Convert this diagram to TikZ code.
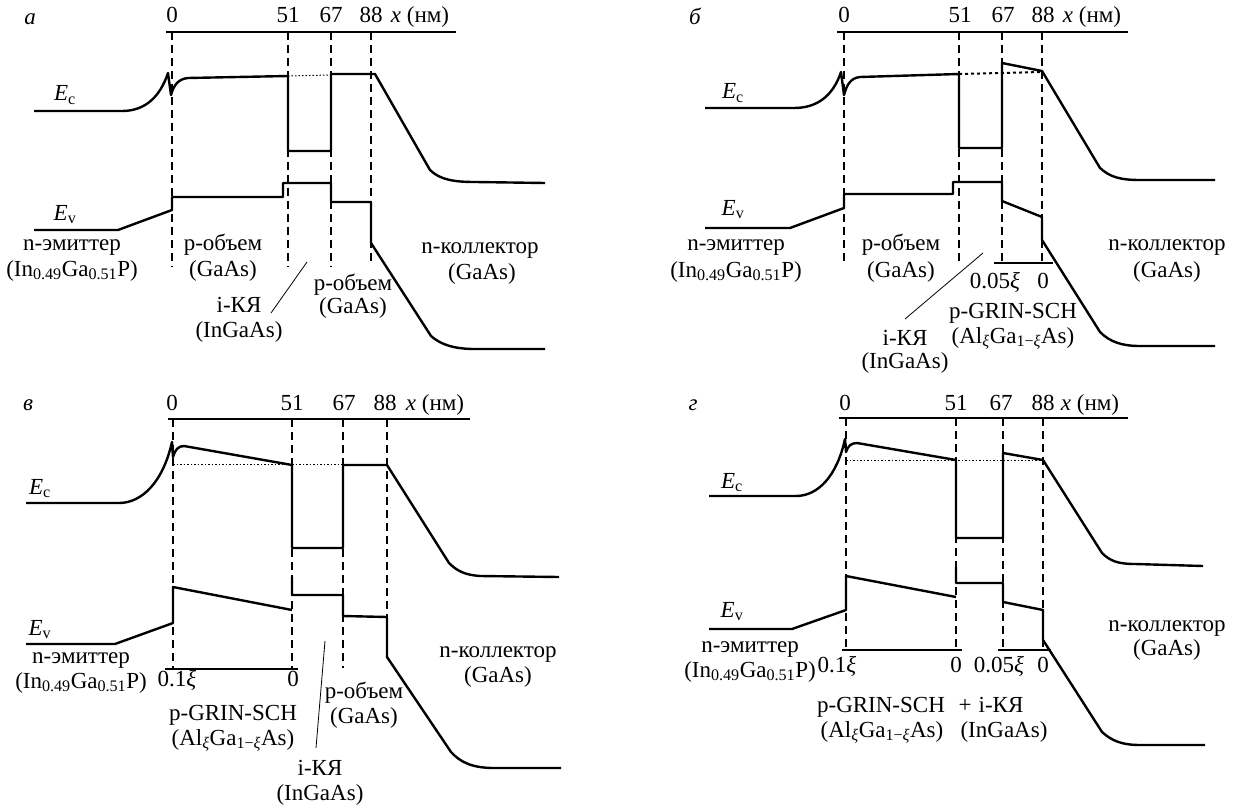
\documentclass[tikz,border=0pt]{standalone}
\usepackage{fontspec}
\setmainfont{Liberation Serif}
\begin{document}
\begin{tikzpicture}[x=1pt,y=-1pt,
 band/.style={line width=2.4pt, line join=round},
 guide/.style={line width=1.1pt, dash pattern=on 8pt off 5pt},
 axisln/.style={line width=1.6pt},
 dotln/.style={line width=1pt, dash pattern=on 1.5pt off 2pt},
 thickdot/.style={line width=2pt, dash pattern=on 3pt off 3pt},
 brk/.style={line width=1.6pt},
 lbl/.style={font=\fontsize{23}{26}\selectfont, inner sep=0pt, text height=15pt, text depth=5pt},
 pin/.style={line width=0.8pt}]
\fill[white] (0,0) rectangle (1239,805);
\useasboundingbox (0,0) rectangle (1239,805);

% ================= panel a =================
\draw[axisln] (166,32) -- (456,32);
\foreach \xx/\yy in {172/267,288/267,331/267,371/262} \draw[guide] (\xx,32) -- (\xx,\yy);
\draw[band] (34,111) -- (122,111) .. controls (145,111) and (160,97) .. (168,73) -- (171,95)
  .. controls (174,84) and (179,79) .. (188,78) -- (288,76) -- (288,151) -- (331,151) -- (331,74)
  -- (375,74) -- (430,170) .. controls (440,180) and (455,182) .. (475,182) -- (545,183);
\draw[dotln] (288,76) -- (331,75);
\draw[band] (34,230) -- (118,230) -- (172,210) -- (172,197) -- (283,197) -- (283,183) -- (331,183)
  -- (331,202) -- (371,202) -- (371,243) -- (431,336) .. controls (441,345) and (455,349) .. (475,349) -- (545,349);
\node[lbl] (a-lab) at (30,20) {\itshape а};
\node[lbl] (a-t0) at (172,18) {0};
\node[lbl] (a-t51) at (288,18) {51};
\node[lbl] (a-t67) at (331,18) {67};
\node[lbl] (a-t88) at (371,18) {88};
\node[lbl] (a-x) at (420,18) {{\itshape x} (нм)};
\node[lbl] (a-ec) at (65,96) {{\itshape E}\textsubscript{c}};
\node[lbl] (a-ev) at (65,215) {{\itshape E}\textsubscript{v}};
\node[lbl] (a-em1) at (72,246) {n-эмиттер};
\node[lbl] (a-em2) at (72,271) {(In\textsubscript{0.49}Ga\textsubscript{0.51}P)};
\node[lbl] (a-pb1) at (223,246) {p-объем};
\node[lbl] (a-pb2) at (223,271) {(GaAs)};
\node[lbl] (a-qw1) at (239,307) {i-КЯ};
\node[lbl] (a-qw2) at (239,332) {(InGaAs)};
\coordinate (a-p1) at (271,313);
\coordinate (a-p2) at (307,262);
\draw[pin] (a-p1) -- (a-p2);
\node[lbl] (a-pc1) at (353,285) {p-объем};
\node[lbl] (a-pc2) at (353,308) {(GaAs)};
\node[lbl] (a-col1) at (480,248) {n-коллектор};
\node[lbl] (a-col2) at (482,274) {(GaAs)};

% ================= panel b =================
\draw[axisln] (837,32) -- (1128,32);
\foreach \xx/\yy in {844/265,959/265,1002/263,1042/263} \draw[guide] (\xx,32) -- (\xx,\yy);
\draw[brk] (994,263) -- (1053,263);
\draw[band] (705,108) -- (794,108) .. controls (817,108) and (833,96) .. (841,72) -- (844,95)
  .. controls (847,84) and (851,78) .. (860,77) -- (959,74) -- (959,148) -- (1002,148) -- (1002,63)
  -- (1042,71) -- (1100,168) .. controls (1110,177) and (1120,180) .. (1140,180) -- (1215,180);
\draw[thickdot] (959,74) -- (1042,72);
\draw[band] (705,228) -- (790,228) -- (844,208) -- (844,194) -- (953,194) -- (953,182) -- (1002,182)
  -- (1002,201) -- (1042,217) -- (1042,240) -- (1100,332) .. controls (1110,342) and (1122,346) .. (1140,346) -- (1215,346);
\node[lbl] (b-lab) at (695,20) {\itshape б};
\node[lbl] (b-t0) at (844,18) {0};
\node[lbl] (b-t51) at (960,18) {51};
\node[lbl] (b-t67) at (1003,18) {67};
\node[lbl] (b-t88) at (1043,18) {88};
\node[lbl] (b-x) at (1092,18) {{\itshape x} (нм)};
\node[lbl] (b-ec) at (733,94) {{\itshape E}\textsubscript{c}};
\node[lbl] (b-ev) at (733,210) {{\itshape E}\textsubscript{v}};
\node[lbl] (b-em1) at (736,245) {n-эмиттер};
\node[lbl] (b-em2) at (736,272) {(In\textsubscript{0.49}Ga\textsubscript{0.51}P)};
\node[lbl] (b-pb1) at (901,245) {p-объем};
\node[lbl] (b-pb2) at (901,272) {(GaAs)};
\node[lbl] (b-g1) at (995,283) {0.05{\itshape ξ}};
\node[lbl] (b-g2) at (1043,283) {0};
\node[lbl] (b-gr1) at (1013,313) {p-GRIN-SCH};
\node[lbl] (b-gr2) at (1013,338) {(Al\textsubscript{{\itshape ξ}}Ga\textsubscript{1−{\itshape ξ}}As)};
\node[lbl] (b-qw1) at (905,340) {i-КЯ};
\node[lbl] (b-qw2) at (905,363) {(InGaAs)};
\coordinate (b-p1) at (905,319);
\coordinate (b-p2) at (983,253);
\draw[pin] (b-p1) -- (b-p2);
\node[lbl] (b-col1) at (1167,245) {n-коллектор};
\node[lbl] (b-col2) at (1167,272) {(GaAs)};

% ================= panel c =================
\draw[axisln] (168,419) -- (470,419);
\foreach \xx/\yy in {173/668,292/668,343/668,387/657} \draw[guide] (\xx,419) -- (\xx,\yy);
\draw[brk] (165,669) -- (298,669);
\draw[band] (26,503) -- (119,503) .. controls (142,503) and (163,482) .. (172,442) -- (173,457)
  .. controls (175,450) and (178,446) .. (184,446) -- (292,465) -- (292,548) -- (343,548) -- (343,465)
  -- (387,465) -- (449,563) .. controls (457,571) and (465,575) .. (480,576) -- (559,577);
\draw[dotln] (173,464) -- (343,464);
\draw[band] (26,644) -- (115,644) -- (173,623) -- (173,587) -- (292,610);
\draw[band] (292,577) -- (292,595) -- (343,595) -- (343,616) -- (387,617) -- (387,657)
  -- (451,752) .. controls (460,762) and (472,768) .. (494,768) -- (561,768);
\node[lbl] (c-lab) at (28,405) {\itshape в};
\node[lbl] (c-t0) at (172,405) {0};
\node[lbl] (c-t51) at (292,405) {51};
\node[lbl] (c-t67) at (344,405) {67};
\node[lbl] (c-t88) at (385,405) {88};
\node[lbl] (c-x) at (435,405) {{\itshape x} (нм)};
\node[lbl] (c-ec) at (40,489) {{\itshape E}\textsubscript{c}};
\node[lbl] (c-ev) at (40,630) {{\itshape E}\textsubscript{v}};
\node[lbl] (c-em1) at (81,658) {n-эмиттер};
\node[lbl] (c-em2) at (81,683) {(In\textsubscript{0.49}Ga\textsubscript{0.51}P)};
\node[lbl] (c-g1) at (177,681) {0.1{\itshape ξ}};
\node[lbl] (c-g2) at (293,681) {0};
\node[lbl] (c-gr1) at (233,715) {p-GRIN-SCH};
\node[lbl] (c-gr2) at (233,740) {(Al\textsubscript{{\itshape ξ}}Ga\textsubscript{1−{\itshape ξ}}As)};
\node[lbl] (c-pb1) at (364,693) {p-объем};
\node[lbl] (c-pb2) at (364,718) {(GaAs)};
\node[lbl] (c-qw1) at (320,770) {i-КЯ};
\node[lbl] (c-qw2) at (320,795) {(InGaAs)};
\coordinate (c-p1) at (316,748);
\coordinate (c-p2) at (325,641);
\draw[pin] (c-p1) -- (c-p2);
\node[lbl] (c-col1) at (498,652) {n-коллектор};
\node[lbl] (c-col2) at (498,677) {(GaAs)};

% ================= panel d =================
\draw[axisln] (839,418) -- (1128,418);
\foreach \xx in {846,956,1003,1043} \draw[guide] (\xx,418) -- (\xx,650);
\draw[brk] (842,650) -- (962,650);
\draw[brk] (998,650) -- (1051,650);
\draw[band] (709,496) -- (796,496) .. controls (818,496) and (837,476) .. (845,439) -- (846,452)
  .. controls (848,446) and (851,443) .. (857,443) -- (956,460) -- (956,538) -- (1003,538) -- (1003,453)
  -- (1043,460) -- (1102,553) .. controls (1110,561) and (1118,564) .. (1135,564) -- (1203,566);
\draw[dotln] (846,460) -- (1043,460);
\draw[band] (709,629) -- (792,629) -- (846,610) -- (846,576) -- (956,597);
\draw[band] (956,567) -- (956,583) -- (1003,583) -- (1003,602) -- (1043,610) -- (1043,640)
  -- (1102,732) .. controls (1112,741) and (1122,745) .. (1140,745) -- (1205,745);
\node[lbl] (d-lab) at (693,405) {\itshape г};
\node[lbl] (d-t0) at (845,405) {0};
\node[lbl] (d-t51) at (956,405) {51};
\node[lbl] (d-t67) at (1001,405) {67};
\node[lbl] (d-t88) at (1043,405) {88};
\node[lbl] (d-x) at (1090,405) {{\itshape x} (нм)};
\node[lbl] (d-ec) at (732,483) {{\itshape E}\textsubscript{c}};
\node[lbl] (d-ev) at (732,612) {{\itshape E}\textsubscript{v}};
\node[lbl] (d-em1) at (750,647) {n-эмиттер};
\node[lbl] (d-em2) at (750,672) {(In\textsubscript{0.49}Ga\textsubscript{0.51}P)};
\node[lbl] (d-g1) at (837,667) {0.1{\itshape ξ}};
\node[lbl] (d-g2) at (956,667) {0};
\node[lbl] (d-g3) at (999,667) {0.05{\itshape ξ}};
\node[lbl] (d-g4) at (1043,667) {0};
\node[lbl] (d-gr1) at (881,707) {p-GRIN-SCH};
\node[lbl] (d-plus) at (965,707) {+};
\node[lbl] (d-qw1) at (1001,707) {i-КЯ};
\node[lbl] (d-gr2) at (882,732) {(Al\textsubscript{{\itshape ξ}}Ga\textsubscript{1−{\itshape ξ}}As)};
\node[lbl] (d-qw2) at (1004,732) {(InGaAs)};
\node[lbl] (d-col1) at (1167,626) {n-коллектор};
\node[lbl] (d-col2) at (1167,650) {(GaAs)};
\end{tikzpicture}
\end{document}
